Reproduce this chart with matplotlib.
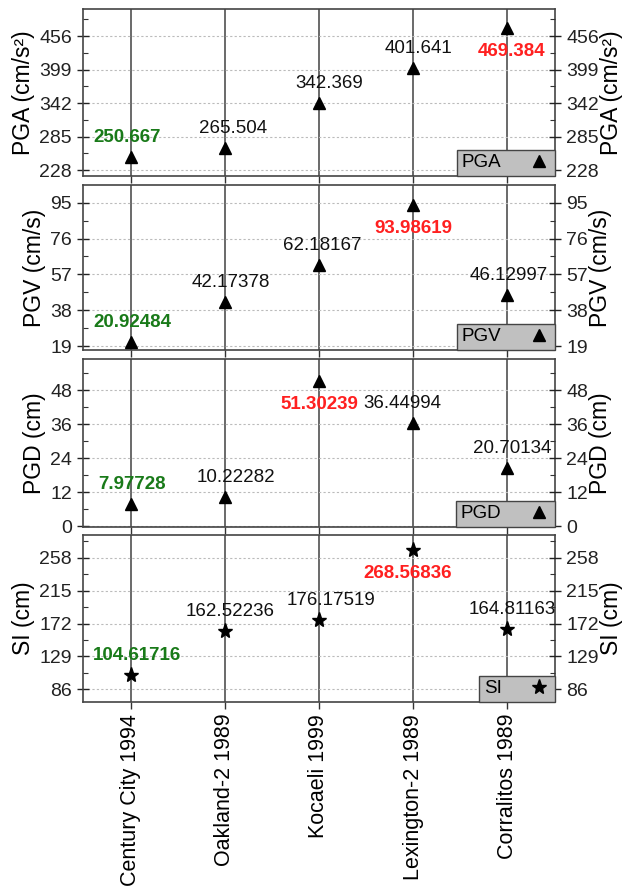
import matplotlib
matplotlib.use("Agg")
import matplotlib.pyplot as plt
import numpy as np
from matplotlib.ticker import AutoMinorLocator, FixedLocator

plt.rcParams["font.family"] = ["Liberation Sans", "DejaVu Sans"]

EVENTS = ["Century City 1994", "Oakland-2 1989", "Kocaeli 1999",
          "Lexington-2 1989", "Corralitos 1989"]

PGA = [250.667, 265.504, 342.369, 401.641, 469.384]
PGV = [20.92484, 42.17378, 62.18167, 93.98619, 46.12997]
PGD = [7.97728, 10.22282, 51.30239, 36.44994, 20.70134]
SI = [104.61716, 162.52236, 176.17519, 268.56836, 164.81163]

PGA_LABELS = ["250.667", "265.504", "342.369", "401.641", "469.384"]
PGV_LABELS = ["20.92484", "42.17378", "62.18167", "93.98619", "46.12997"]
PGD_LABELS = ["7.97728", "10.22282", "51.30239", "36.44994", "20.70134"]
SI_LABELS = ["104.61716", "162.52236", "176.17519", "268.56836", "164.81163"]

PGA_TICKS = [228, 285, 342, 399, 456]
PGV_TICKS = [19, 38, 57, 76, 95]
PGD_TICKS = [0, 12, 24, 36, 48]
SI_TICKS = [86, 129, 172, 215, 258]

GREEN = "#197a19"
RED = "#ff2020"

# (values, labels, ticks, ylim, ylabel, legend name, marker, marker size, label dx in pt)
panels = [
    (PGA, PGA_LABELS, PGA_TICKS, (218, 502), "PGA (cm/s²)", "PGA", "^", 9,
     [-3, 6, 7, 4, 3]),
    (PGV, PGV_LABELS, PGV_TICKS, (16.9, 104.4), "PGV (cm/s)", "PGV", "^", 9,
     [1, 4, 2, 0, 1]),
    (PGD, PGD_LABELS, PGD_TICKS, (-0.2, 59), "PGD (cm)", "PGD", "^", 9,
     [1, 8, 0, -8, 4]),
    (SI, SI_LABELS, SI_TICKS, (69.4, 287.7), "SI (cm)", "SI", "*", 11,
     [4, 4, 9, -4, 4]),
]

# panel tops/bottoms in pixels of a 628x894 canvas
tops = [9, 185, 359, 535]
bots = [176, 350, 527, 702]
W, H = 628, 894
left, right = 83, 555

fig = plt.figure(figsize=(6.28, 8.94), dpi=100)
x = np.arange(len(EVENTS))

for i, (vals, labs, ticks, ylim, ylab, name, mk, ms, dxs) in enumerate(panels):
    ax = fig.add_axes([left / W, 1 - bots[i] / H, (right - left) / W,
                       (bots[i] - tops[i]) / H])
    ax.set_xlim(-0.51, 4.51)
    ax.set_ylim(*ylim)
    ax.plot(x, vals, ls="none", marker=mk, ms=ms, color="black", zorder=5,
            label=name)

    imin, imax = int(np.argmin(vals)), int(np.argmax(vals))
    for j, (v, t) in enumerate(zip(vals, labs)):
        if j == imax:
            ax.annotate(t, (j, v), xytext=(dxs[j], -17), textcoords="offset points",
                        ha="center", va="center", fontsize=13.5, color=RED,
                        fontweight="bold", zorder=6)
        else:
            color = GREEN if j == imin else "#111111"
            weight = "bold" if j == imin else "normal"
            ax.annotate(t, (j, v), xytext=(dxs[j], 14), textcoords="offset points",
                        ha="center", va="center", fontsize=13.5, color=color,
                        fontweight=weight, zorder=6)

    # vertical lines at each event, dotted horizontal lines at major ticks
    ax.set_xticks(x)
    ax.grid(axis="x", color="#505050", lw=1.2, ls="-")
    ax.grid(axis="y", color="#bbbbbb", lw=0.8, ls=(0, (2, 2)))
    ax.set_axisbelow(True)

    ax.yaxis.set_major_locator(FixedLocator(ticks))
    ax.yaxis.set_minor_locator(AutoMinorLocator(2))
    ax.tick_params(axis="y", which="major", direction="inout", length=9,
                   width=1, labelsize=14, colors="#222222")
    ax.tick_params(axis="y", which="minor", direction="in", length=3.5,
                   width=0.8, color="#333333")
    ax.tick_params(axis="x", direction="out", length=5, width=1,
                   color="#333333", labelsize=15.5)
    ax.set_ylabel(ylab, fontsize=16.5, labelpad=3)

    if i == len(panels) - 1:
        ax.set_xticklabels(EVENTS, rotation=90)
    else:
        ax.set_xticklabels([])

    for sp in ax.spines.values():
        sp.set_color("#444444")
        sp.set_linewidth(1.2)

    axr = ax.twinx()
    axr.set_ylim(*ylim)
    axr.yaxis.set_major_locator(FixedLocator(ticks))
    axr.yaxis.set_minor_locator(AutoMinorLocator(2))
    axr.tick_params(axis="y", which="major", direction="inout", length=9,
                    width=1, labelsize=14, colors="#222222")
    axr.tick_params(axis="y", which="minor", direction="in", length=3.5,
                    width=0.8, color="#333333")
    axr.set_ylabel(ylab, fontsize=16.5, rotation=90, labelpad=1)
    for sp in axr.spines.values():
        sp.set_visible(False)

    leg = axr.legend(*ax.get_legend_handles_labels(), loc="lower right",
                     borderaxespad=0, markerfirst=False, fontsize=13.5,
                     fancybox=False, framealpha=1, handlelength=1.2,
                     handletextpad=1.4, borderpad=0.25)
    leg.get_frame().set_facecolor("#c0c0c0")
    leg.get_frame().set_edgecolor("#444444")
    leg.get_frame().set_linewidth(1.0)

fig.savefig("out.png", dpi=100)
